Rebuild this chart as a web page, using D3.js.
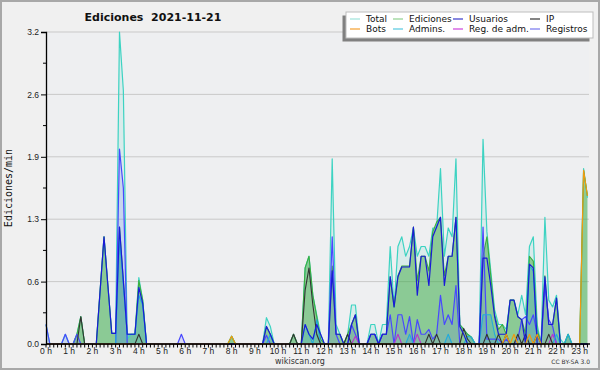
<!DOCTYPE html>
<html><head><meta charset="utf-8">
<script src="https://cdn.jsdelivr.net/npm/d3@7"></script>
<style>body{margin:0;background:#f0f0f0}svg{display:block}</style>
</head><body><svg id="c" width="600" height="370"></svg>
<script>
// values per 10-minute slot, one row per hour (edits per minute)
const total = [
0.2,0,0,0,0,0.1, 0,0,0.1,0.28,0,0, 0,0,0.55,1.1,0.6,0.11, 0.11,3.2,2.6,0.05,0.1,0.1,
0.68,0.45,0,0,0,0, 0,0,0,0,0,0, 0,0,0,0,0,0, 0,0,0,0,0,0,
0.08,0,0,0,0,0, 0,0,0,0.27,0.18,0, 0,0,0,0,0.1,0, 0,0.78,0.9,0.5,0.3,0.1,
0,0,1.9,0.2,0.1,0, 0.1,0.4,0.4,0,0,0, 0.2,0.2,0,0.2,0.2,1.0, 0.38,1.0,1.1,0.9,1.0,1.19,
0.9,1.0,1.0,0.9,1.19,1.19, 1.8,0.9,1.19,1.1,1.9,0.2, 0.15,0.1,0.07,0,0,2.1, 1.15,0.75,0.35,0.2,0.2,0.15,
0.45,0.45,0.3,0.5,0.3,1.0, 1.1,0.2,0,1.3,0.45,0.38, 0.5,0.05,0,0.1,0,0, 0,1.8,1.5];
const ediciones = [
0,0,0,0,0,0, 0,0,0.1,0.28,0,0, 0,0,0.55,1.1,0.6,0.11, 0.11,1.2,0.65,0.1,0.1,0.1,
0.65,0.45,0,0,0,0, 0,0,0,0,0,0, 0,0,0,0,0,0, 0,0,0,0,0,0,
0.08,0,0,0,0,0, 0,0,0,0.18,0.1,0, 0,0,0,0,0.1,0, 0,0.78,0.9,0.5,0.28,0.05,
0,0,0.8,0.1,0.1,0, 0.1,0.2,0.3,0,0,0, 0.1,0.1,0,0.1,0.1,0.69, 0.38,0.7,0.8,0.8,0.8,1.2,
0.65,0.9,0.9,0.75,1.15,1.25, 1.3,0.7,0.9,0.9,1.3,0.2, 0.15,0.1,0.07,0,0,0.9, 1.1,0.7,0.3,0.15,0.2,0.1,
0.45,0.45,0.28,0.25,0.1,0.9, 0.85,0.15,0,0.7,0.2,0.2, 0.47,0,0,0.1,0,0, 0,1.78,1.52];
const usuarios = [
0,0,0,0,0,0, 0,0,0,0,0,0, 0,0,0.55,1.1,0.6,0.11, 0.11,1.2,0.65,0.1,0.1,0.1,
0.58,0.42,0,0,0,0, 0,0,0,0,0,0, 0,0,0,0,0,0, 0,0,0,0,0,0,
0,0,0,0,0,0, 0,0,0,0.18,0.1,0, 0,0,0,0,0,0, 0,0.2,0.1,0.05,0.2,0.1,
0,0,0.75,0.1,0.1,0, 0,0.2,0.3,0,0,0, 0.1,0.1,0,0.1,0.1,0.69, 0.38,0.69,0.79,0.79,0.79,1.2,
0.5,0.9,0.9,0.6,1.1,1.2, 1.3,0.6,0.9,0.9,1.3,0.18, 0.1,0,0,0,0,0.88, 0.88,0.6,0.28,0.1,0.1,0.1,
0.45,0.45,0.28,0.25,0,0.82, 0.78,0,0,0.69,0.2,0.2, 0.47,0,0,0,0,0, 0,0,0];
const ip = [
0,0,0,0,0,0, 0,0,0,0.28,0,0, 0,0,0,0,0,0, 0,0,0,0,0,0,
0.1,0,0,0,0,0, 0,0,0,0,0,0, 0,0,0,0,0,0, 0,0,0,0,0,0,
0,0,0,0,0,0, 0,0,0,0,0,0, 0,0,0,0,0.1,0, 0,0.55,0.78,0.4,0.1,0,
0,0,0,0,0,0, 0.1,0,0,0,0,0, 0,0,0,0,0,0, 0,0,0,0,0,0,
0,0,0,0.1,0,0.1, 0,0,0,0,0,0, 0.16,0.05,0,0,0,0, 0.1,0,0,0.1,0,0.1,
0,0,0.1,0,0.1,0, 0,0.1,0,0,0.1,0, 0,0,0,0,0,0, 0,0,0];
const bots = [
0,0,0,0,0,0, 0,0,0,0,0,0, 0,0,0,0,0,0, 0,0,0,0,0,0,
0,0,0,0,0,0, 0,0,0,0,0,0, 0,0,0,0,0,0, 0,0,0,0,0,0,
0.08,0,0,0,0,0, 0,0,0,0,0,0, 0,0,0,0,0,0, 0,0,0,0,0,0,
0,0,0,0,0,0, 0,0,0,0,0,0, 0,0,0,0,0,0, 0,0,0,0,0,0,
0,0,0,0,0,0, 0,0,0,0,0,0, 0,0,0,0,0,0, 0,0,0,0,0,0.1,
0,0.1,0,0,0,0.1, 0,0.1,0,0,0,0, 0,0,0,0,0,0, 0,1.78,1.52];
const admins = [
0,0,0,0,0,0, 0,0,0,0,0,0, 0,0,0,0,0,0, 0,1.1,0.6,0.1,0.1,0.1,
0.5,0.4,0,0,0,0, 0,0,0,0,0,0, 0,0,0,0,0,0, 0,0,0,0,0,0,
0,0,0,0,0,0, 0,0,0,0,0.1,0, 0,0,0,0,0,0, 0,0.2,0.1,0,0.25,0,
0,0,0,0,0,0, 0,0,0,0,0,0, 0,0,0,0,0,0, 0,0,0,0,0.1,0,
0,0,0,0,0,0, 0,0,0.1,0,0,0, 0,0.08,0.07,0,0,0.3, 0.3,0.3,0.1,0,0,0,
0,0,0,0,0,0.8, 0.75,0.1,0,0,0,0, 0.1,0,0,0.1,0,0, 0,0,0];
const regAdm = [
0,0,0,0,0,0, 0,0,0,0,0,0, 0,0,0,0,0,0, 0,0,0,0,0,0,
0,0,0,0,0,0, 0,0,0,0,0,0, 0,0,0,0,0,0, 0,0,0,0,0,0,
0,0,0,0,0,0, 0,0,0,0,0,0, 0,0,0,0,0,0, 0,0,0,0,0,0,
0,0,0,0,0,0, 0,0,0.08,0,0,0, 0,0,0,0,0,0, 0,0.1,0,0,0,0,
0.1,0,0,0,0,0, 0,0,0,0,0,0, 0,0,0,0,0,0, 0,0,0,0,0,0,
0,0,0,0,0,0, 0,0,0,0,0,0.1, 0,0,0,0,0,0, 0,0,0];
const registros = [
0.2,0,0,0,0,0.1, 0,0,0.1,0,0,0, 0,0,0,0,0,0, 0,2.0,1.6,0,0,0,
0,0,0,0,0,0, 0,0,0,0,0,0.1, 0,0,0,0,0,0, 0,0,0,0,0,0,
0,0,0,0,0,0, 0,0,0,0.09,0,0, 0,0,0,0,0,0, 0,0,0,0,0,0,
0,0,1.1,0.1,0,0, 0,0.2,0.1,0,0,0, 0.1,0.1,0,0.1,0.1,0.3, 0,0.3,0.3,0.1,0.28,0,
0.25,0.1,0.1,0.15,0.05,0.1, 0.5,0.2,0.3,0.2,0.6,0, 0,0,0,0,0,1.2, 0.05,0.05,0.05,0.05,0,0.05,
0,0,0.05,0.25,0.28,0.2, 0.3,0.1,0,0.6,0.25,0.18, 0,0,0,0,0,0, 0,0,0];

const yTicks = [0, 0.64, 1.28, 1.92, 2.56, 3.2];
const yTickLabels = ["0.0","0.6","1.3","1.9","2.6","3.2"];
const hourLabels = ["0 h","1 h","2 h","3 h","4 h","5 h","6 h","7 h","8 h","9 h","10 h","11 h",
  "12 h","13 h","14 h","15 h","16 h","17 h","18 h","19 h","20 h","21 h","22 h","23 h"];

const legendItems = [
  {name:"Total", color:"#9fe3da"}, {name:"Ediciones", color:"#8fd08f"},
  {name:"Usuarios", color:"#3a3acc"}, {name:"IP", color:"#333333"},
  {name:"Bots", color:"#f5a030"}, {name:"Admins.", color:"#55c8e0"},
  {name:"Reg. de adm.", color:"#cc44dd"}, {name:"Registros", color:"#7777ee"}];

const svg = d3.select("#c");
const W = 600, H = 370;
const L = 46, R = 589, T = 32, B = 344;

svg.append("rect").attr("x",1).attr("y",1).attr("width",W-2).attr("height",H-2)
  .attr("fill","#f0f0f0").attr("stroke","#a8a8a8").attr("stroke-width",2);
svg.append("rect").attr("x",L).attr("y",T).attr("width",R-L).attr("height",B-T).attr("fill","#eeeff1");

const x = d3.scaleLinear().domain([0, 23.4]).range([L, R]);
const y = d3.scaleLinear().domain([0, 3.2]).range([B, T]);
const tOf = i => i / 6;

// grid
svg.append("g").selectAll("line").data(yTicks.slice(1)).join("line")
  .attr("x1",L).attr("x2",R).attr("y1",d=>y(d)).attr("y2",d=>y(d))
  .attr("stroke","#c9c9c9").attr("stroke-width",1);

function areaOf(arr){ return d3.area().x((d,i)=>x(tOf(i))).y0(y(0)).y1(d=>y(d))(arr); }
function lineOf(arr){ return d3.line().x((d,i)=>x(tOf(i))).y(d=>y(d))(arr); }

const g = svg.append("g");
g.append("path").attr("d",areaOf(total)).attr("fill","rgba(90,215,195,0.14)");
g.append("path").attr("d",areaOf(ediciones)).attr("fill","rgba(55,165,55,0.48)");
g.append("path").attr("d",areaOf(registros)).attr("fill","rgba(90,90,255,0.14)");
g.append("path").attr("d",areaOf(admins)).attr("fill","rgba(40,160,220,0.22)");

const lines = [
  [total,"#3dd3c2",1.2],[ediciones,"#3cae3c",1.1],[registros,"#4848ff",1.2],
  [regAdm,"#bb33cc",1.1],[admins,"#22aadd",1.1],[ip,"#333333",1.1],
  [usuarios,"#1a1ad8",1.2],[bots,"#f09a10",1.2]];
lines.forEach(([arr,c,w])=>{
  g.append("path").attr("d",lineOf(arr)).attr("fill","none").attr("stroke",c)
   .attr("stroke-width",w).attr("stroke-linejoin","round");
});

// y axis
const yAxis = d3.axisLeft(y).tickValues(yTicks).tickFormat((d,i)=>yTickLabels[i]).tickSize(5).tickPadding(2);
const ya = svg.append("g").attr("transform",`translate(${L},0)`).call(yAxis);
ya.select(".domain").attr("stroke","#000").attr("stroke-width",1.3);
ya.selectAll(".tick line").attr("stroke","#000");
ya.selectAll("text").attr("font-family","Liberation Sans, Arial, sans-serif").attr("font-size","8.5px").attr("fill","#222");
const minorY = yTicks.slice(0,-1).map((d,i)=>(d+yTicks[i+1])/2);
svg.append("g").selectAll("line").data(minorY).join("line")
  .attr("x1",L-3).attr("x2",L).attr("y1",d=>y(d)).attr("y2",d=>y(d)).attr("stroke","#000");

// x axis
const minorX = d3.range(0, 141).map(i=>i/6);
svg.append("g").selectAll("line").data(minorX).join("line")
  .attr("x1",d=>x(d)).attr("x2",d=>x(d)).attr("y1",B).attr("y2",B+3.5)
  .attr("stroke","#000").attr("stroke-width",1);
svg.append("line").attr("x1",L).attr("x2",R+1).attr("y1",B).attr("y2",B)
  .attr("stroke","#000").attr("stroke-width",1.5);
svg.append("g").selectAll("text").data(hourLabels).join("text")
  .attr("x",(d,i)=>x(i)).attr("y",353.5).attr("text-anchor","middle")
  .attr("font-family","Liberation Sans, Arial, sans-serif").attr("font-size","8.5px").attr("fill","#222")
  .text(d=>d);

// y label
svg.append("text").attr("transform","translate(12,188) rotate(-90)").attr("text-anchor","middle")
  .attr("font-family","DejaVu Sans Mono, monospace").attr("font-size","10px").attr("fill","#111")
  .text("Ediciones/min");

// title
svg.append("text").attr("x",153).attr("y",21).attr("text-anchor","middle")
  .attr("font-family","DejaVu Sans, sans-serif").attr("font-weight","bold").attr("font-size","11px")
  .attr("fill","#111").attr("xml:space","preserve").style("white-space","pre").text("Ediciones  2021-11-21");

// legend
const lg = svg.append("g");
lg.append("rect").attr("x",342.5).attr("y",15.5).attr("width",247).attr("height",26).attr("fill","#808080");
lg.append("rect").attr("x",346).attr("y",12).attr("width",247).attr("height",26)
  .attr("fill","#ffffff").attr("stroke","#bdbdbd").attr("stroke-width",1);
const colX = [350, 393, 453, 530];
legendItems.forEach((it,k)=>{
  const cx = colX[k%4], ry = k<4 ? 19 : 29;
  lg.append("line").attr("x1",cx).attr("x2",cx+10).attr("y1",ry).attr("y2",ry)
    .attr("stroke",it.color).attr("stroke-width",1.2);
  lg.append("text").attr("x",cx+16).attr("y",ry+3.3)
    .attr("font-family","DejaVu Sans, sans-serif").attr("font-size","9px").attr("fill","#111").text(it.name);
});

// footer
svg.append("text").attr("x",300).attr("y",364).attr("text-anchor","middle")
  .attr("font-family","DejaVu Sans, sans-serif").attr("font-size","8px").attr("fill","#333").text("wikiscan.org");
svg.append("text").attr("x",590).attr("y",364).attr("text-anchor","end")
  .attr("font-family","DejaVu Sans, sans-serif").attr("font-size","6px").attr("fill","#333").text("CC BY-SA 3.0");
</script></body></html>
